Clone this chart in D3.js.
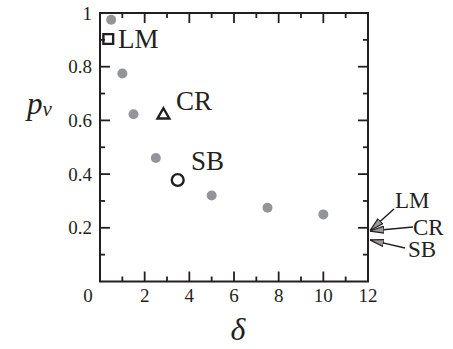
<!DOCTYPE html>
<html><head><meta charset="utf-8">
<script src="https://cdn.jsdelivr.net/npm/d3@7"></script>
<style>body{margin:0;background:#fff}svg{display:block}</style>
</head><body><svg id="c" width="453" height="349" font-family="Liberation Serif"></svg>
<script>
const grayDelta = [0.5, 1, 1.5, 2.5, 5, 7.5, 10];
const grayP = [0.975, 0.775, 0.623, 0.46, 0.32, 0.275, 0.25];
const markerNames = ["LM", "CR", "SB"];
const markerDelta = [0.37, 2.84, 3.48];
const markerP = [0.903, 0.62, 0.378];
const limitNames = ["LM", "CR", "SB"];
const limitP = [0.19, 0.188, 0.155];
const xTicks = [2, 4, 6, 8, 10, 12];
const yTicks = [0.2, 0.4, 0.6, 0.8, 1];
const yTickLabels = ["0.2", "0.4", "0.6", "0.8", "1"];

const svg = d3.select("#c");
const L = 100, R = 368, T = 13, B = 281.5;
const x = d3.scaleLinear().domain([0, 12]).range([L, R]);
const y = d3.scaleLinear().domain([0, 1]).range([B, T]);
const ink = "#231f20";
const minorX = d3.range(1, 12, 2);
const minorY = [0.1, 0.3, 0.5, 0.7, 0.9];

const g = svg.append("g").attr("stroke", ink).attr("stroke-width", 1.8);
function tk(x1, y1, x2, y2) { g.append("line").attr("x1", x1).attr("y1", y1).attr("x2", x2).attr("y2", y2); }
xTicks.forEach(v => { tk(x(v), B, x(v), B - 10); tk(x(v), T, x(v), T + 10); });
minorX.forEach(v => { tk(x(v), B, x(v), B - 5); tk(x(v), T, x(v), T + 5); });
yTicks.forEach(v => { tk(L, y(v), L + 10, y(v)); tk(R, y(v), R - 10, y(v)); });
minorY.forEach(v => { tk(L, y(v), L + 5, y(v)); tk(R, y(v), R - 5, y(v)); });
svg.append("rect").attr("x", L).attr("y", T).attr("width", R - L).attr("height", B - T)
  .attr("fill", "none").attr("stroke", ink).attr("stroke-width", 2);

const tf = "#231f20";
svg.selectAll(".xl").data(xTicks).join("text").attr("x", d => x(d)).attr("y", 302)
  .attr("text-anchor", "middle").attr("font-size", 19).attr("fill", tf).text(d => d);
svg.append("text").attr("x", 88).attr("y", 302).attr("text-anchor", "middle").attr("font-size", 19).attr("fill", tf).text("0");
svg.selectAll(".yl").data(yTicks).join("text").attr("x", 92).attr("y", d => y(d) + 6.5)
  .attr("text-anchor", "end").attr("font-size", 19).attr("fill", tf).text((d, i) => yTickLabels[i]);

const yt = svg.append("text").attr("x", 27).attr("y", 114).attr("font-style", "italic").attr("font-size", 31).attr("fill", tf);
yt.append("tspan").text("p");
yt.append("tspan").attr("font-size", 21).attr("dy", 2).text("v");
svg.append("text").attr("x", 238).attr("y", 340).attr("text-anchor", "middle")
  .attr("font-style", "italic").attr("font-size", 32).attr("fill", tf).text("δ");

svg.selectAll(".gp").data(grayDelta).join("circle").attr("cx", d => x(d)).attr("cy", (d, i) => y(grayP[i]))
  .attr("r", 5).attr("fill", "#939598");

const sym = [d3.symbolSquare, d3.symbolTriangle, d3.symbolCircle];
const sz = [95, 60, 110];
markerNames.forEach((n, i) => {
  svg.append("path").attr("d", d3.symbol().type(sym[i]).size(sz[i])())
    .attr("transform", `translate(${x(markerDelta[i])},${y(markerP[i])})`)
    .attr("fill", "none").attr("stroke", ink).attr("stroke-width", 2.4);
});
const lblPos = [[118, 48], [176, 110], [191, 170]];
markerNames.forEach((n, i) => {
  svg.append("text").attr("x", lblPos[i][0]).attr("y", lblPos[i][1]).attr("font-size", 27).attr("fill", tf).text(n);
});

const defs = svg.append("defs");
defs.append("marker").attr("id", "ah").attr("viewBox", "0 0 14 8").attr("refX", 14).attr("refY", 4)
  .attr("markerWidth", 14).attr("markerHeight", 8).attr("markerUnits", "userSpaceOnUse").attr("orient", "auto")
  .append("path").attr("d", "M0,0.5 L14,4 L0,7.5 Z").attr("fill", "#9a9a9a").attr("stroke", ink).attr("stroke-width", 1.2);
const arrowFrom = [[394, 209], [413, 227], [405, 248]];
const lblR = [[395, 208], [413, 235], [408, 257]];
limitNames.forEach((n, i) => {
  svg.append("line").attr("x1", arrowFrom[i][0]).attr("y1", arrowFrom[i][1])
    .attr("x2", R + 2).attr("y2", y(limitP[i])).attr("stroke", ink).attr("stroke-width", 1.5)
    .attr("marker-end", "url(#ah)");
  svg.append("text").attr("x", lblR[i][0]).attr("y", lblR[i][1]).attr("font-size", 23).attr("fill", tf).text(n);
});
</script></body></html>
